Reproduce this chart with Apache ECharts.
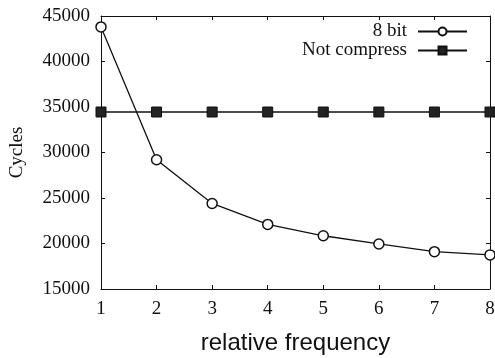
<!DOCTYPE html>
<html>
<head>
<meta charset="utf-8">
<script src="https://cdn.jsdelivr.net/npm/echarts@6/dist/echarts.min.js"></script>
<style>
  html, body { margin: 0; padding: 0; background: #fff; }
  #chart { width: 495px; height: 358px; }
</style>
</head>
<body>
<div id="chart"></div>
<script>
const frequencies = [1, 2, 3, 4, 5, 6, 7, 8];
const eightBit = [43800, 29200, 24400, 22100, 20850, 19950, 19100, 18750];
const notCompress = [34450, 34450, 34450, 34450, 34450, 34450, 34450, 34450];
const seriesNames = ["8 bit", "Not compress"];

const ink = "#111";
const serif = "'Liberation Serif', 'DejaVu Serif', serif";

const chart = echarts.init(document.getElementById("chart"));

const pairs = (ys) => frequencies.map((x, i) => [x, ys[i]]);

const plainAxis = {
  axisLine: { show: true, lineStyle: { color: ink, width: 1 } },
  axisTick: { show: true, inside: true, length: 4, lineStyle: { color: ink } },
  splitLine: { show: false },
};

chart.setOption({
  animation: false,
  backgroundColor: "#fff",
  grid: { left: 101, right: 5, top: 16, bottom: 69, outerBoundsMode: "none" },
  legend: {
    data: seriesNames,
    orient: "vertical",
    align: "right",
    right: 27,
    top: 22,
    padding: 0,
    itemWidth: 49,
    itemHeight: 10,
    itemGap: 0,
    textStyle: { fontFamily: serif, fontSize: 19, color: ink, padding: [0, 6, 0, 0] },
  },
  xAxis: [
    {
      ...plainAxis,
      type: "value",
      min: 1,
      max: 8,
      interval: 1,
      name: "relative frequency",
      nameLocation: "middle",
      nameGap: 42,
      nameTextStyle: { fontFamily: "'Liberation Sans', Arial, sans-serif", fontSize: 24, color: ink },
      axisLabel: { fontFamily: serif, fontSize: 19, color: ink, margin: 11 },
    },
    {
      ...plainAxis,
      type: "value",
      position: "top",
      min: 1,
      max: 8,
      interval: 1,
      axisLabel: { show: false },
    },
  ],
  yAxis: [
    {
      ...plainAxis,
      type: "value",
      min: 15000,
      max: 45000,
      interval: 5000,
      name: "Cycles",
      nameLocation: "middle",
      nameGap: 74,
      nameTextStyle: { fontFamily: serif, fontSize: 19, color: ink },
      axisLabel: { fontFamily: serif, fontSize: 19, color: ink, margin: 11, formatter: (v) => String(v) },
    },
    {
      ...plainAxis,
      type: "value",
      position: "right",
      min: 15000,
      max: 45000,
      interval: 5000,
      axisLabel: { show: false },
    },
  ],
  series: [
    {
      name: seriesNames[0],
      type: "line",
      data: pairs(eightBit),
      symbol: "circle",
      symbolSize: 10,
      lineStyle: { color: ink, width: 1.3 },
      itemStyle: { color: "#fff", borderColor: ink, borderWidth: 1.5 },
    },
    {
      name: seriesNames[1],
      type: "line",
      data: pairs(notCompress),
      symbol: "rect",
      symbolSize: 10,
      lineStyle: { color: ink, width: 1.3 },
      itemStyle: { color: "#222", borderColor: ink, borderWidth: 1 },
    },
  ],
});
</script>
</body>
</html>
